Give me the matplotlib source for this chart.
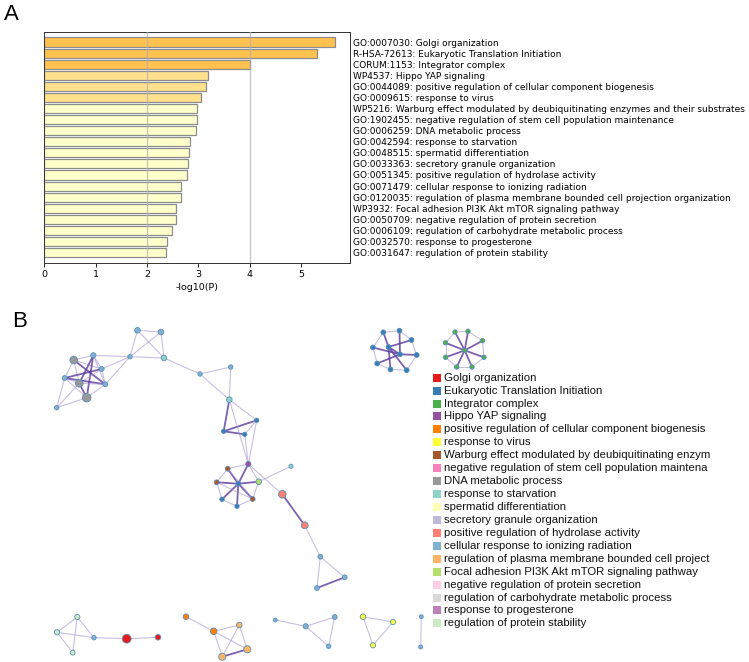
import matplotlib
matplotlib.use("Agg")
import matplotlib.pyplot as plt

# ---------------- Panel A data ----------------
terms = [
    "GO:0007030: Golgi organization",
    "R-HSA-72613: Eukaryotic Translation Initiation",
    "CORUM:1153: Integrator complex",
    "WP4537: Hippo YAP signaling",
    "GO:0044089: positive regulation of cellular component biogenesis",
    "GO:0009615: response to virus",
    "WP5216: Warburg effect modulated by deubiquitinating enzymes and their substrates",
    "GO:1902455: negative regulation of stem cell population maintenance",
    "GO:0006259: DNA metabolic process",
    "GO:0042594: response to starvation",
    "GO:0048515: spermatid differentiation",
    "GO:0033363: secretory granule organization",
    "GO:0051345: positive regulation of hydrolase activity",
    "GO:0071479: cellular response to ionizing radiation",
    "GO:0120035: regulation of plasma membrane bounded cell projection organization",
    "WP3932: Focal adhesion PI3K Akt mTOR signaling pathway",
    "GO:0050709: negative regulation of protein secretion",
    "GO:0006109: regulation of carbohydrate metabolic process",
    "GO:0032570: response to progesterone",
    "GO:0031647: regulation of protein stability",
]
neglogp = [5.66, 5.31, 4.00, 3.19, 3.15, 3.05, 2.97, 2.97, 2.95, 2.84,
           2.82, 2.80, 2.77, 2.67, 2.67, 2.57, 2.57, 2.49, 2.39, 2.37]
bar_colors = ["#FFC24F"] * 3 + ["#FFE08C"] * 3 + ["#FFFFCC"] * 14

# ---------------- Panel B data ----------------
# legend texts as they are shown (the long ones are cut at the panel edge)
legend_names = [
    "Golgi organization", "Eukaryotic Translation Initiation", "Integrator complex",
    "Hippo YAP signaling", "positive regulation of cellular component biogenesis",
    "response to virus", "Warburg effect modulated by deubiquitinating enzym",
    "negative regulation of stem cell population maintena", "DNA metabolic process",
    "response to starvation", "spermatid differentiation", "secretory granule organization",
    "positive regulation of hydrolase activity", "cellular response to ionizing radiation",
    "regulation of plasma membrane bounded cell project",
    "Focal adhesion PI3K Akt mTOR signaling pathway", "negative regulation of protein secretion",
    "regulation of carbohydrate metabolic process", "response to progesterone",
    "regulation of protein stability",
]
legend_colors = [
    "#E41A1C", "#377EB8", "#4DAF4A", "#984EA3", "#FF7F00", "#FFFF33", "#A65628",
    "#F781BF", "#999999", "#8DD3C7", "#FFFFB3", "#BEBADA", "#FB8072", "#80B1D3",
    "#FDB462", "#B3DE69", "#FCCDE5", "#D9D9D9", "#BC80BD", "#CCEBC5",
]

# network layout (layout units), category of each node, node size
node_x = [73.7, 93.3, 101.7, 64.7, 79.3, 105.3, 86.7, 56.7, 130.0, 137.5,
          161.0, 164.0, 200.0, 230.7, 229.3, 256.7, 223.7, 244.7, 248.3, 227.7,
          216.7, 238.3, 258.7, 222.0, 237.0, 252.7, 291.0, 282.3, 304.7, 320.3,
          344.7, 317.0,
          383.3, 399.5, 411.5, 373.0, 388.5, 416.7, 400.0, 377.2, 390.5, 406.7,
          464.7, 455.0, 468.0, 482.5, 484.0, 472.0, 456.7, 445.5, 445.5,
          77.3, 57.0, 72.7, 94.0, 126.7, 158.0, 186.0, 213.7, 239.3, 247.3,
          222.3, 275.3, 305.7, 334.7, 328.7, 363.0, 393.0, 373.0, 421.3, 420.7]
node_y = [360.0, 355.3, 369.0, 378.0, 383.3, 384.3, 397.7, 407.7, 356.7, 330.3,
          332.0, 358.0, 374.0, 367.0, 399.7, 420.3, 431.3, 434.3, 464.0, 468.7,
          482.3, 483.7, 481.7, 499.3, 506.3, 499.0, 466.3, 494.3, 525.3, 556.7,
          577.3, 588.0,
          332.3, 330.7, 340.0, 347.5, 347.0, 355.0, 354.3, 363.5, 369.5, 370.2,
          350.4, 332.0, 331.3, 340.7, 357.3, 367.0, 367.0, 357.3, 342.8,
          617.0, 632.3, 652.7, 637.7, 638.7, 637.3, 616.7, 631.3, 625.0, 649.3,
          656.7, 620.0, 626.3, 617.0, 646.3, 616.7, 622.0, 645.3, 616.7, 647.0]
node_cat = [8, 13, 13, 13, 8, 13, 8, 13, 13, 13,
            13, 9, 13, 13, 9, 1, 1, 1, 3, 6,
            6, 1, 15, 1, 1, 6, 9, 12, 12, 13,
            13, 13,
            1, 1, 1, 1, 1, 1, 1, 1, 1, 1,
            2, 2, 2, 2, 2, 2, 2, 2, 2,
            19, 19, 19, 13, 0, 0, 4, 4, 14, 14,
            14, 13, 13, 13, 13, 5, 5, 5, 13, 13]
node_size = [30, 14, 12, 12, 30, 12, 38, 10, 10, 16,
             16, 16, 10, 10, 16, 10, 10, 10, 14, 12,
             12, 12, 16, 10, 10, 12, 9, 30, 24, 12,
             12, 12,
             12, 12, 12, 12, 12, 12, 12, 12, 12, 12,
             10, 10, 10, 10, 10, 10, 10, 10, 10,
             14, 14, 12, 10, 40, 16, 16, 22, 16, 26,
             26, 8, 14, 12, 10, 16, 14, 14, 8, 8]

edge_src = [0, 0, 0, 0, 0, 1, 1, 1, 1, 2, 2, 2, 3, 3, 3, 4, 4, 5, 6, 3, 4,
            1, 2, 5, 8, 8, 9, 9, 8, 10, 11, 12, 12, 13, 14, 14, 16, 16, 17, 14,
            15, 17, 18, 19, 20, 23, 24, 25, 22, 21, 21, 21, 21, 21, 21, 21, 19, 20,
            22, 18, 27, 28, 29, 29, 30,
            32, 33, 34, 37, 41, 40, 39, 35, 36, 36, 36, 36, 38, 38, 38, 38, 36,
            42, 42, 42, 42, 42, 42, 42, 42, 43, 44, 45, 46, 47, 48, 49, 50,
            51, 51, 52, 52, 51, 54, 55, 57, 58, 58, 58, 59, 59, 60,
            62, 63, 63, 64, 66, 66, 67, 69]
edge_dst = [1, 2, 5, 4, 3, 2, 4, 6, 5, 3, 4, 5, 4, 5, 6, 5, 6, 6, 7, 7, 7,
            8, 8, 8, 9, 10, 10, 11, 11, 11, 12, 13, 14, 14, 16, 15, 15, 17, 15, 18,
            18, 18, 19, 20, 23, 24, 25, 22, 18, 18, 19, 20, 22, 23, 24, 25, 25, 25,
            26, 27, 28, 29, 30, 31, 31,
            33, 34, 37, 41, 40, 39, 35, 32, 32, 34, 40, 41, 33, 35, 37, 39, 38,
            43, 44, 45, 46, 47, 48, 49, 50, 44, 45, 46, 47, 48, 49, 50, 43,
            52, 53, 53, 54, 54, 55, 56, 58, 59, 60, 61, 60, 61, 61,
            63, 64, 65, 65, 67, 68, 68, 70]
edge_dark = [0, 0, 1, 0, 0, 0, 1, 1, 0, 1, 0, 0, 0, 1, 0, 0, 1, 0, 0, 0, 0,
             0, 0, 0, 0, 0, 0, 0, 0, 0, 0, 0, 0, 0, 1, 0, 1, 1, 0, 0,
             0, 0, 0, 0, 0, 0, 0, 0, 0, 1, 1, 1, 1, 1, 1, 1, 0, 0,
             0, 0, 1, 0, 0, 0, 1,
             0, 0, 0, 0, 0, 0, 0, 0, 1, 1, 1, 1, 1, 1, 1, 1, 1,
             1, 1, 1, 1, 1, 1, 1, 1, 0, 0, 0, 0, 0, 0, 0, 0,
             0, 0, 0, 0, 0, 0, 0, 0, 0, 0, 0, 0, 0, 1,
             0, 0, 0, 0, 0, 0, 0, 0]

W, H = 749, 662
fig = plt.figure(figsize=(W / 100, H / 100), dpi=100)

# ---------------- Panel B: network ----------------
axn = fig.add_axes([0, 0, 1, 1])
axn.set_xlim(0, W)
axn.set_ylim(H, 0)
axn.axis("off")
axn.patch.set_alpha(0)
for s, d, k in zip(edge_src, edge_dst, edge_dark):
    axn.plot([node_x[s], node_x[d]], [node_y[s], node_y[d]],
             color="#5B3A9E" if k else "#A594D0",
             lw=1.3 if k else 0.8, alpha=0.8 if k else 0.6,
             solid_capstyle="round", zorder=1)
axn.scatter(node_x, node_y, s=node_size, c=[legend_colors[c] for c in node_cat],
            edgecolors="#5A8FB8", linewidths=0.6, zorder=3)
axn.text(12, 311, "B", fontsize=16, family="Liberation Sans", va="top", ha="left")
axn.text(4, 4, "A", fontsize=16, family="Liberation Sans", va="top", ha="left")

# legend of panel B
axl = fig.add_axes([430 / W, 1 - 630 / H, (712 - 430) / W, (630 - 370) / H])
axl.set_xlim(430, 712)
axl.set_ylim(630, 370)
axl.axis("off")
axl.patch.set_alpha(0)
for i, (name, col) in enumerate(zip(legend_names, legend_colors)):
    yy = 377.7 + i * 12.93
    axl.scatter([437.2], [yy], marker="s", s=40, color=col, linewidths=0,
                clip_on=False)
    axl.text(444, yy, name, fontsize=8.2, family="Liberation Sans",
             va="center", ha="left", color="#111111")

# ---------------- Panel A: bar chart ----------------
axa = fig.add_axes([44.3 / W, 1 - 263.3 / H, (350 - 44.3) / W, (263.3 - 31.7) / H])
ypos = list(range(len(terms)))
axa.barh(ypos, neglogp, height=0.82, color=bar_colors, edgecolor="#8C8C8C",
         linewidth=0.9, zorder=2)
axa.set_xlim(0, 5.95)
axa.set_ylim(19.97, -0.93)
for gx in (2, 4):
    axa.axvline(gx, color="#B0B0B0", lw=1.0, zorder=3, alpha=0.7)
axa.set_xticks([0, 1, 2, 3, 4, 5])
axa.tick_params(axis="x", labelsize=6.8, length=3, width=0.6, pad=2)
axa.set_yticks(ypos)
axa.set_yticklabels(terms, fontsize=6.5)
axa.yaxis.tick_right()
axa.tick_params(axis="y", length=0, pad=2.5)
axa.set_xlabel("-log10(P)", fontsize=6.8, labelpad=3)
for sp in axa.spines.values():
    sp.set_linewidth(0.7)
    sp.set_color("#333333")

fig.savefig("out.png", dpi=100)
